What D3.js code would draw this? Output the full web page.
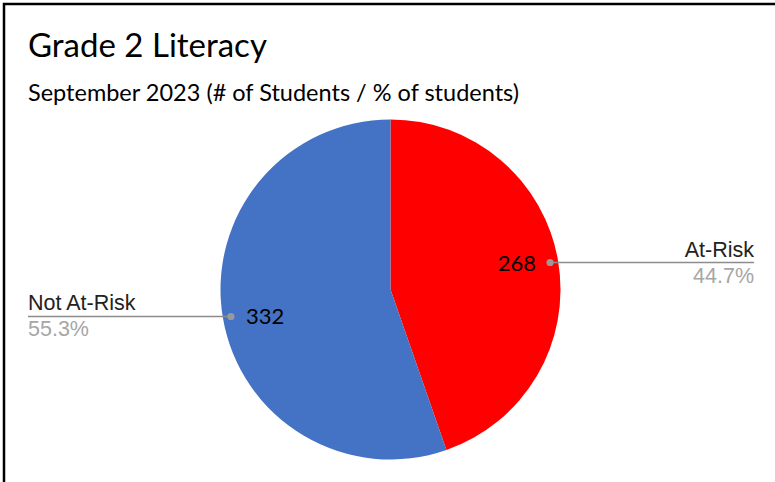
<!DOCTYPE html>
<html>
<head>
<meta charset="utf-8">
<script src="https://cdn.jsdelivr.net/npm/d3@7/dist/d3.min.js"></script>
<style>
  html, body { margin: 0; padding: 0; background: #fff; overflow: hidden; }
  svg { display: block; }
</style>
</head>
<body>
<svg id="chart" width="775" height="482"></svg>
<script>
// Grade 2 literacy screening, September 2023
const categories = ["At-Risk", "Not At-Risk"];
const students = [268, 332];
const colors = ["#ff0000", "#4472c4"];

const W = 775, H = 482;
const svg = d3.select("#chart");

// frame
svg.append("rect")
  .attr("x", 4).attr("y", 4)
  .attr("width", W + 10).attr("height", H + 10)
  .attr("fill", "none").attr("stroke", "#000").attr("stroke-width", 2.5);

// titles
svg.append("text")
  .attr("x", 28).attr("y", 57)
  .attr("font-family", "Lato, 'Open Sans', sans-serif")
  .attr("font-size", 33).attr("fill", "#000")
  .text("Grade 2 Literacy");
svg.append("text")
  .attr("x", 28).attr("y", 101)
  .attr("font-family", "Lato, 'Open Sans', sans-serif")
  .attr("font-size", 23.5).attr("fill", "#000")
  .text("September 2023 (# of Students / % of students)");

const cx = 390.5, cy = 289.5, R = 170;
const total = d3.sum(students);
const data = categories.map((c, i) => ({ name: c, value: students[i], color: colors[i] }));

const pie = d3.pie().value(d => d.value).sort(null);
const arcs = pie(data);
const arc = d3.arc().innerRadius(0).outerRadius(R);
const dotArc = d3.arc().innerRadius(R * 0.952).outerRadius(R * 0.952);

const g = svg.append("g").attr("transform", `translate(${cx},${cy})`);
g.selectAll("path.slice").data(arcs).join("path")
  .attr("class", "slice")
  .attr("d", arc)
  .attr("fill", d => d.data.color);

const fmtPct = d => (d.data.value / total * 100).toFixed(1) + "%";

arcs.forEach(a => {
  const [px, py] = dotArc.centroid(a);
  const right = px > 0;
  const dx = cx + px, dy = cy + py;
  const endX = right ? 754 : 28;

  svg.append("line")
    .attr("x1", dx).attr("y1", dy).attr("x2", endX).attr("y2", dy)
    .attr("stroke", "#8c8c8c").attr("stroke-width", 1.6);
  svg.append("circle")
    .attr("cx", dx).attr("cy", dy).attr("r", 3.6)
    .attr("fill", "#999");

  // value inside the slice
  svg.append("text")
    .attr("x", right ? dx - 14 : dx + 15).attr("y", dy + 8)
    .attr("text-anchor", right ? "end" : "start")
    .attr("font-family", "Lato, 'Open Sans', sans-serif")
    .attr("font-size", 22).attr("fill", "#000")
    .text(a.data.value);

  // category and share outside
  svg.append("text")
    .attr("x", endX).attr("y", dy - 6)
    .attr("text-anchor", right ? "end" : "start")
    .attr("font-family", "'Liberation Sans', Arial, sans-serif")
    .attr("font-size", 21.5).attr("fill", "#222")
    .text(a.data.name);
  svg.append("text")
    .attr("x", endX).attr("y", dy + 20)
    .attr("text-anchor", right ? "end" : "start")
    .attr("font-family", "'Liberation Sans', Arial, sans-serif")
    .attr("font-size", 21.5).attr("fill", "#a6a6a6")
    .text(fmtPct(a));
});
</script>
</body>
</html>
